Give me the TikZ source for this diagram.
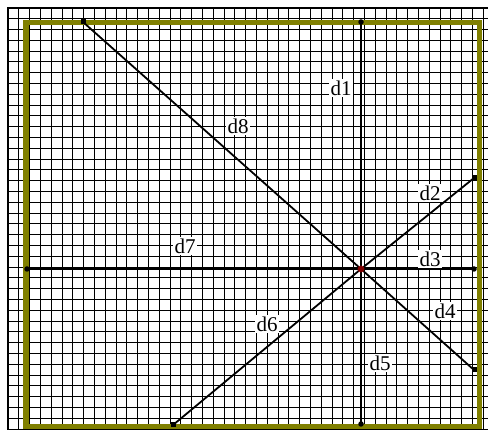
\documentclass[tikz,border=0pt]{standalone}
\usepackage{fontspec}
\setmainfont{Liberation Serif}
\definecolor{frameolive}{RGB}{128,128,0}
\begin{document}
\begin{tikzpicture}[x=1pt,y=-1pt,
  gridline/.style={draw=black,line width=1pt},
  edgeline/.style={draw=black,line width=2.5pt},
  frameline/.style={draw=frameolive,line width=5.5pt},
  ray/.style={draw=black,line width=1.8pt},
  lab/.style={fill=white,inner sep=1.5pt,font=\fontsize{21}{21}\selectfont},
  sqmark/.style={fill=black,minimum size=5pt,inner sep=0pt,rectangle},
  dotmark/.style={fill=black,minimum size=5.5pt,inner sep=0pt,circle}]
\useasboundingbox[fill=white] (0,0) rectangle (488,430);
% grid
\foreach \i in {0,...,44} \draw[gridline] ({8+10.8*\i},8) -- ({8+10.8*\i},430);
\foreach \j in {0,...,39} \draw[gridline] (8,{8+10.8*\j}) -- (488,{8+10.8*\j});
\draw[edgeline] (8,430) -- (8,8) -- (488,8);
% olive frame
\draw[frameline] (26,22.5) rectangle (479.5,426.5);
% points
\coordinate (C) at (361,269);
\node[dotmark] (e1) at (361,22) {};
\node[sqmark] (e2) at (474,178) {};
\node[dotmark] (e3) at (474,269) {};
\node[sqmark] (e4) at (474,370) {};
\node[dotmark] (e5) at (361,424) {};
\node[sqmark] (e6) at (173,425) {};
\node[dotmark] (e7) at (27,269) {};
\node[sqmark] (e8) at (83,22) {};
\foreach \k in {1,...,8} \draw[ray] (C) -- (e\k.center);
\fill[red!70!black,opacity=0.7] (C) circle (3.5pt);
% labels
\node[lab] (l1) at (341,88) {d1};
\node[lab] (l2) at (430,193) {d2};
\node[lab] (l3) at (430,259) {d3};
\node[lab] (l4) at (445,311) {d4};
\node[lab] (l5) at (380,363) {d5};
\node[lab] (l6) at (267,324) {d6};
\node[lab] (l7) at (185,246) {d7};
\node[lab] (l8) at (238,126) {d8};
\end{tikzpicture}
\end{document}
